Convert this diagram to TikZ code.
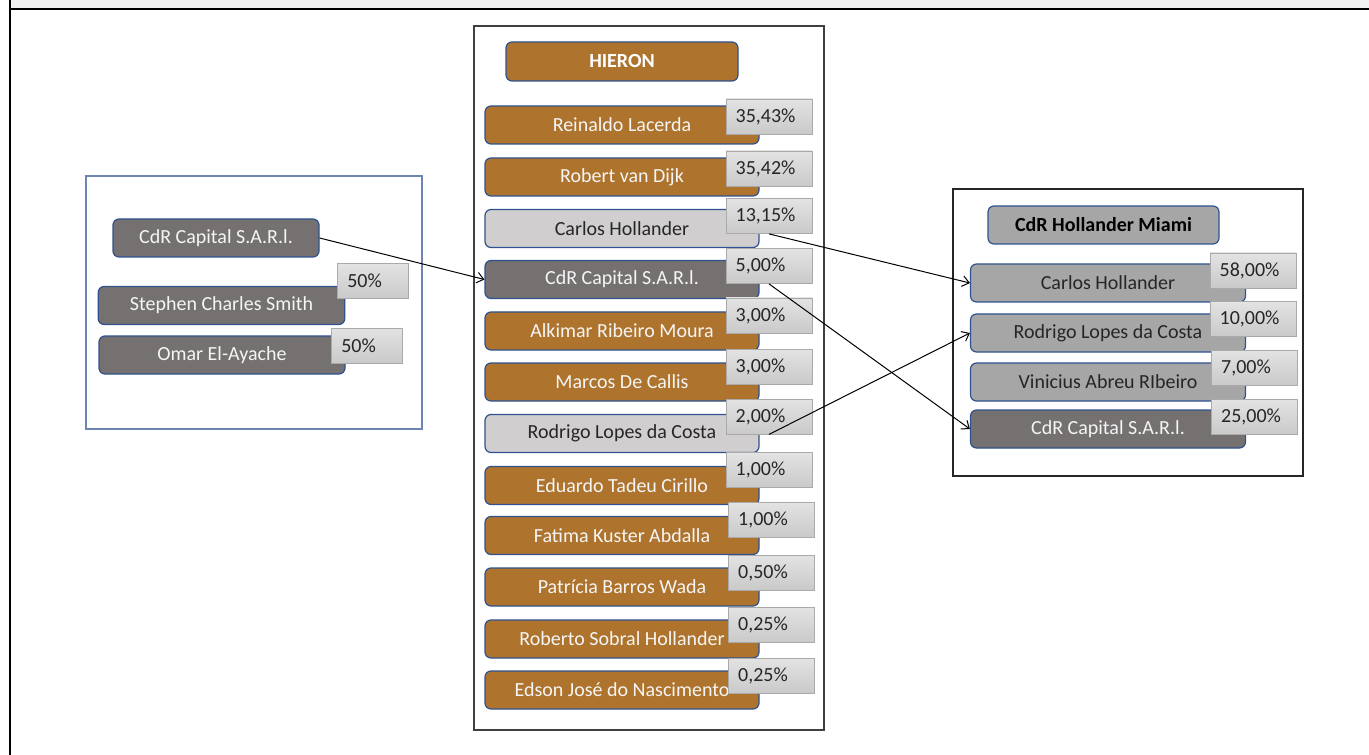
\documentclass[tikz,border=0pt]{standalone}
\usepackage{fontspec}
\usetikzlibrary{arrows.meta}
\setmainfont{Carlito}
\definecolor{hbrown}{RGB}{174,116,46}
\definecolor{hdark}{RGB}{118,113,113}
\definecolor{hlight}{RGB}{208,206,206}
\definecolor{hmid}{RGB}{166,166,166}
\definecolor{hedge}{RGB}{47,82,143}
\definecolor{htext}{RGB}{38,38,38}
\definecolor{hwhite}{RGB}{245,245,245}
\definecolor{pctedge}{RGB}{170,170,170}
\begin{document}
\begin{tikzpicture}[x=0.75pt,y=-0.75pt,
  person/.style={rectangle,rounded corners=4.5pt,draw=hedge,line width=0.9pt,minimum width=205.5pt,minimum height=28.5pt,inner sep=0pt,font=\fontsize{15}{18}\selectfont},
  pct/.style={rectangle,draw=pctedge,line width=0.6pt,top color=gray!22,bottom color=gray!42,minimum height=26.25pt,text width=50pt,inner xsep=7.25pt,inner ysep=0pt,align=left,text=htext,font=\fontsize{15}{18}\selectfont},
  group/.style={line width=0.8pt}]
\useasboundingbox (0,0) rectangle (1369,755);
% sheet edges
\fill[gray!10] (11,0) rectangle (1369,8);
\draw[line width=1.5pt] (10,9) -- (1369,9);
\draw[line width=1.5pt] (10,0) -- (10,755);

% left group
\draw[group,draw=hedge!70] (86,176) rectangle (422,429);
\node[person,fill=hdark,text=hwhite,minimum width=154.5pt] (l1) at (216,238) {CdR Capital S.A.R.l.};
\node[person,fill=hdark,text=hwhite,minimum width=185pt] (l2) at (221.5,305.5) {Stephen Charles Smith};
\node[pct,text width=38.5pt] (lp2) at (373,281) {50\%};
\node[person,fill=hdark,text=hwhite,minimum width=184.5pt] (l3) at (222,355) {Omar El-Ayache};
\node[pct,text width=38.5pt] (lp3) at (367,345.5) {50\%};

% HIERON
\draw[group,draw=black!75] (474,26) rectangle (824,730);
\node[person,fill=hbrown,text=white,minimum width=174pt,minimum height=29.25pt,font=\fontsize{15}{18}\selectfont\bfseries] (hieron) at (622,61.5) {HIERON};
\foreach \i/\yy/\px/\py/\who/\pc/\fc/\tc in {
  1/125/769/116.5/Reinaldo Lacerda/{35,43\%}/hbrown/hwhite,
  2/177/769/168.5/Robert van Dijk/{35,42\%}/hbrown/hwhite,
  3/228.5/769/216/Carlos Hollander/{13,15\%}/hlight/htext,
  4/279.5/769/266/CdR Capital S.A.R.l./{5,00\%}/hdark/hwhite,
  5/331/769/315.5/Alkimar Ribeiro Moura/{3,00\%}/hbrown/hwhite,
  6/382/769/366.5/Marcos De Callis/{3,00\%}/hbrown/hwhite,
  7/433.5/769/416.5/Rodrigo Lopes da Costa/{2,00\%}/hlight/htext,
  8/485.5/769/470/Eduardo Tadeu Cirillo/{1,00\%}/hbrown/hwhite,
  9/535.5/771.5/519.5/Fatima Kuster Abdalla/{1,00\%}/hbrown/hwhite,
  10/587/771.5/572.5/Patrícia Barros Wada/{0,50\%}/hbrown/hwhite,
  11/639/771.5/624.5/Roberto Sobral Hollander/{0,25\%}/hbrown/hwhite,
  12/690/771.5/675.5/Edson José do Nascimento/{0,25\%}/hbrown/hwhite}
{
  \node[person,fill=\fc,text=\tc] (h\i) at (622,\yy) {\who};
  \node[pct] (hp\i) at (\px,\py) {\pc};
}

% CdR Hollander Miami
\draw[group,draw=black!85] (953,189) rectangle (1303,476);
\node[person,fill=hmid,text=black,minimum width=173.25pt,font=\fontsize{15}{18}\selectfont\bfseries] (miami) at (1103.5,225) {CdR Hollander Miami};
\foreach \i/\yy/\px/\py/\who/\pc/\fc/\tc in {
  1/283/1253/270.5/Carlos Hollander/{58,00\%}/hmid/htext,
  2/333/1253/319/Rodrigo Lopes da Costa/{10,00\%}/hmid/htext,
  3/382/1254.5/367.5/Vinicius Abreu RIbeiro/{7,00\%}/hmid/htext,
  4/429/1254.5/417/CdR Capital S.A.R.l./{25,00\%}/hdark/hwhite}
{
  \node[person,fill=\fc,text=\tc,minimum width=206.25pt] (m\i) at (1108,\yy) {\who};
  \node[pct] (mp\i) at (\px,\py) {\pc};
}

% holdings
\begin{scope}[line width=0.75pt,-{Straight Barb[length=5pt,width=8pt]}]
\draw (l1.east) -- (h4.west);
\draw (hp3.south) -- (m1.west);
\draw (hp4.south) -- (m4.west);
\draw (hp7.south) -- (m2.west);
\end{scope}
\end{tikzpicture}
\end{document}
